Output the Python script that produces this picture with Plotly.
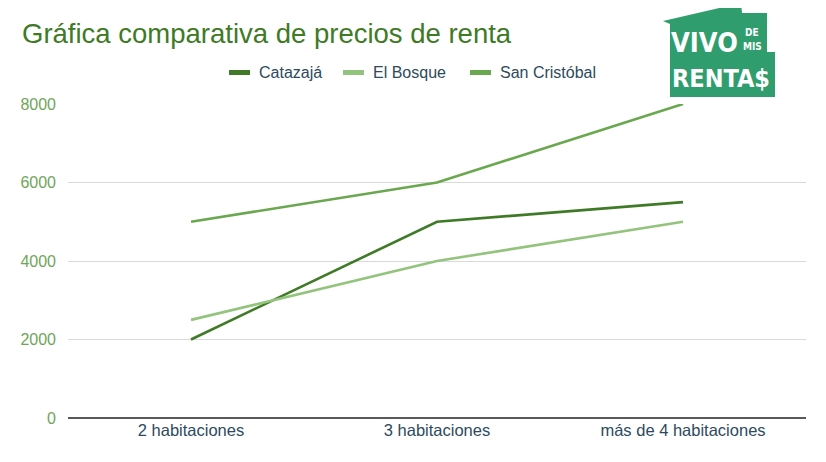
import plotly.graph_objects as go

categories = ["2 habitaciones", "3 habitaciones", "más de 4 habitaciones"]
series_names = ["Catazajá", "El Bosque", "San Cristóbal"]
catazaja = [2000, 5000, 5500]
el_bosque = [2500, 4000, 5000]
san_cristobal = [5000, 6000, 8000]
y_ticks = [0, 2000, 4000, 6000, 8000]

colors = ["#3f7a26", "#93c47d", "#6aa84f"]
values = [catazaja, el_bosque, san_cristobal]

OFF = 8  # page body margin
W, H = 826 - OFF, 462 - OFF
L, T = 68 - OFF, 104 - OFF
R = W - (806 - OFF)
B = H - (418 - OFF)
PW, PH = W - L - R, H - T - B


def px(x):
    return (x - OFF - L) / PW


def py(y):
    return (H - B - (y - OFF)) / PH


fig = go.Figure()
for name, vals, col in zip(series_names, values, colors):
    fig.add_trace(go.Scatter(x=categories, y=vals, name=name, mode="lines",
                             line=dict(color=col, width=2.6), showlegend=False))

font_main = "Liberation Sans, Arial, sans-serif"
shapes = []
annotations = []

# manual legend
leg_x = [229, 343, 470]
for name, col, lx in zip(series_names, colors, leg_x):
    shapes.append(dict(type="rect", xref="paper", yref="paper",
                       x0=px(lx), x1=px(lx + 21), y0=py(75), y1=py(70),
                       fillcolor=col, line=dict(width=0)))
    annotations.append(dict(text=name, xref="paper", yref="paper",
                            x=px(lx + 28), y=py(72), xanchor="left", yanchor="middle",
                            showarrow=False, font=dict(size=16, color="#2d4a5e", family=font_main)))

# logo
logo_pts = [(663, 21), (741, 3), (742, 13), (767, 13), (767, 52), (775, 52),
            (775, 97), (670, 97), (670, 24)]
path = "M " + " L ".join(f"{px(a)},{py(b)}" for a, b in logo_pts) + " Z"
shapes.append(dict(type="path", xref="paper", yref="paper", path=path,
                   fillcolor="#2f9d6d", line=dict(width=0), layer="above"))
logo_font = "Liberation Sans Narrow, DejaVu Sans Condensed, Arial Narrow, sans-serif"
for txt, x, y, s in [("<b>VIVO</b>", 704, 42, 27), ("<b>DE</b>", 752, 33, 10),
                     ("<b>MIS</b>", 752, 47, 10), ("<b>RENTA$</b>", 721, 79, 25)]:
    annotations.append(dict(text=txt, xref="paper", yref="paper", x=px(x), y=py(y),
                            xanchor="center", yanchor="middle", showarrow=False,
                            font=dict(size=s, color="white", family=logo_font)))

fig.update_layout(
    width=W, height=H,
    margin=dict(l=L, r=R, t=T, b=B, autoexpand=False),
    paper_bgcolor="white", plot_bgcolor="white",
    title=dict(text="Gráfica comparativa de precios de renta", x=(22 - OFF) / W,
               xanchor="left", y=1 - (33 - OFF) / H, yanchor="middle",
               font=dict(size=27.5, color="#3f7a26", family=font_main)),
    xaxis=dict(showgrid=False, showline=False, ticks="", range=[-0.5, 2.5],
               automargin=False,
               tickfont=dict(size=16.5, color="#2d4a5e", family=font_main)),
    yaxis=dict(range=[0, 8000], tickvals=y_ticks, showgrid=True, gridcolor="#d9d9d9",
               gridwidth=1, zeroline=True, zerolinecolor="#595959", zerolinewidth=1.5,
               ticks="", ticklabelstandoff=11, automargin=False,
               tickfont=dict(size=16, color="#6fa55a", family=font_main)),
    shapes=shapes, annotations=annotations,
)

fig.write_html("out.html")
